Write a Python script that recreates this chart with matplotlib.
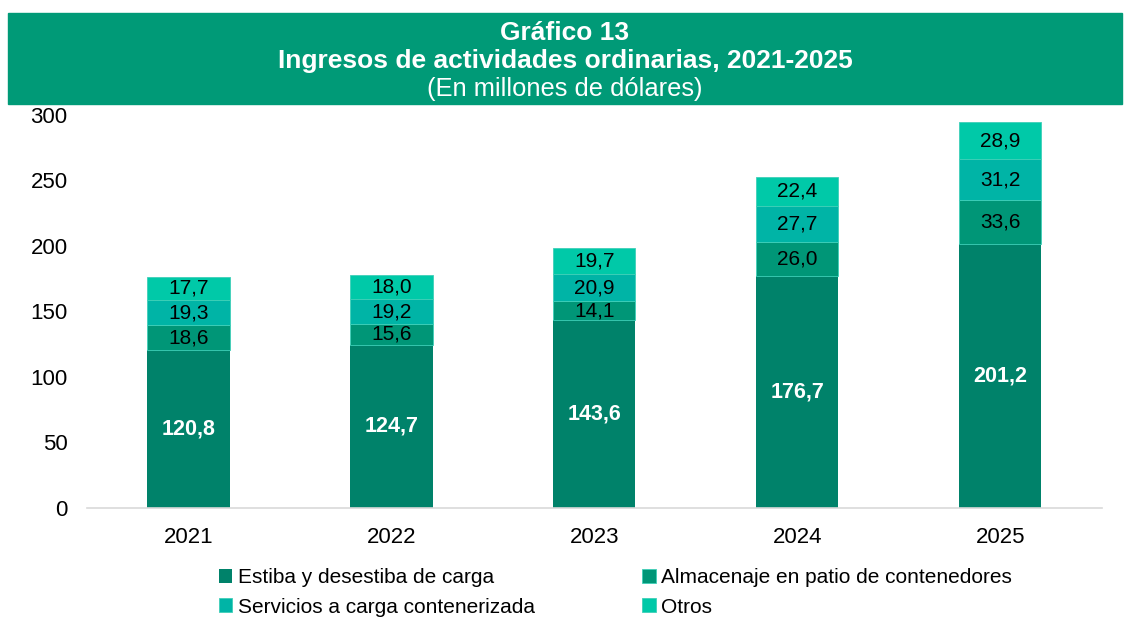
import numpy as np
import matplotlib
matplotlib.use("Agg")
import matplotlib.pyplot as plt
from matplotlib.patches import Rectangle

plt.rcParams["font.family"] = ["Liberation Sans", "DejaVu Sans"]

# datos (millones de dólares)
years = ["2021", "2022", "2023", "2024", "2025"]
estiba = [120.8, 124.7, 143.6, 176.7, 201.2]
almacenaje = [18.6, 15.6, 14.1, 26.0, 33.6]
servicios = [19.3, 19.2, 20.9, 27.7, 31.2]
otros = [17.7, 18.0, 19.7, 22.4, 28.9]
series_names = ["Estiba y desestiba de carga", "Almacenaje en patio de contenedores",
                "Servicios a carga contenerizada", "Otros"]
colors = ["#00826A", "#009677", "#00B4A6", "#00C9A8"]

fig = plt.figure(figsize=(11.3, 6.17), dpi=100)
ax = fig.add_axes([0.077, 0.1767, 0.898, 0.637])

# banda de título
fig.patches.append(Rectangle((8 / 1130, 1 - 104 / 617), 1114 / 1130, 91 / 617,
                             transform=fig.transFigure, color="#009A77", zorder=0))
fig.text(0.5, 1 - 33 / 617, "Gráfico 13", ha="center", va="center",
         fontsize=19, fontweight="bold", color="white")
fig.text(0.5, 1 - 61 / 617, "Ingresos de actividades ordinarias, 2021-2025", ha="center",
         va="center", fontsize=19, fontweight="bold", color="white")
fig.text(0.5, 1 - 89 / 617, "(En millones de dólares)", ha="center", va="center",
         fontsize=18.4, color="white")

x = np.arange(len(years))
w = 0.405
bottom = np.zeros(len(years))
handles = []
for i, (vals, name) in enumerate(zip([estiba, almacenaje, servicios, otros], series_names)):
    vals = np.array(vals)
    bars = ax.bar(x, vals, w, bottom=bottom, color=colors[i], label=name,
                  edgecolor="#3fcfb8", linewidth=0.6 if i > 0 else 0)
    handles.append(bars)
    for xi, b, v in zip(x, bottom, vals):
        if i == 0:
            ax.text(xi, b + v / 2, f"{v:.1f}".replace(".", ","), ha="center", va="center",
                    color="white", fontsize=15.5, fontweight="bold")
        else:
            ax.text(xi, b + v / 2, f"{v:.1f}".replace(".", ","), ha="center", va="center",
                    color="black", fontsize=15)
    bottom += vals

ax.set_xlim(-0.5, len(years) - 0.5)
ax.set_ylim(0, 300)
ax.set_yticks(range(0, 301, 50))
ax.set_xticks(x)
ax.set_xticklabels(years)
ax.tick_params(axis="both", length=0, labelsize=16, colors="black")
ax.tick_params(axis="x", pad=14)
ax.tick_params(axis="y", pad=14)
for s in ["top", "right", "left"]:
    ax.spines[s].set_visible(False)
ax.spines["bottom"].set_color("#d9d9d9")
ax.spines["bottom"].set_linewidth(1.2)

# orden por filas: Estiba, Almacenaje / Servicios, Otros
order = [0, 2, 1, 3]
ax.legend([handles[k] for k in order], [series_names[k] for k in order],
          loc="upper left", bbox_to_anchor=(0.130, -0.153), ncol=2, frameon=False,
          fontsize=15, handlelength=0.65, handleheight=0.65, handletextpad=0.25,
          columnspacing=5.15, labelspacing=0.5, borderaxespad=0, borderpad=0)

fig.savefig("out.png", dpi=100)
